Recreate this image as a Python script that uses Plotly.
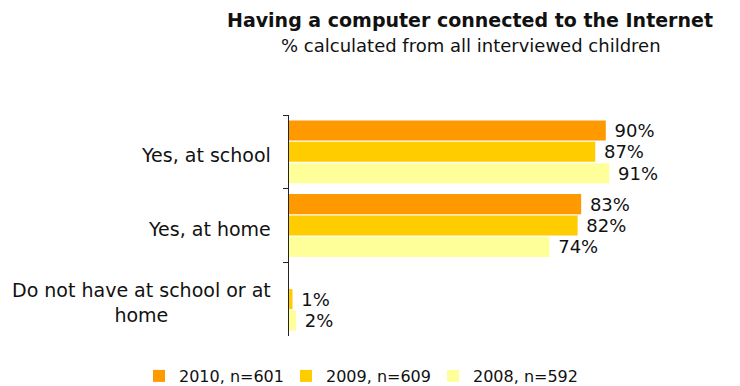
import plotly.graph_objects as go

categories = ["Yes, at school", "Yes, at home", "Do not have at school or at<br>home"]
series_names = ["2010, n=601", "2009, n=609", "2008, n=592"]
values_2010 = [90, 83, None]
values_2009 = [87, 82, 1]
values_2008 = [91, 74, 2]
series_values = [values_2010, values_2009, values_2008]
colors = ["#FF9900", "#FFCC00", "#FFFF99"]

FONT = "DejaVu Sans"
TEXT = "#111111"
W, H = 740, 386

fig = go.Figure()
for name, vals, col in zip(series_names, series_values, colors):
    fig.add_trace(go.Bar(
        y=categories,
        x=vals,
        name=name,
        orientation="h",
        marker=dict(color=col, line=dict(width=0)),
        text=["\u00a0" + f"{v}%" if v is not None else "" for v in vals],
        textposition="outside",
        constraintext="none",
        textfont=dict(family=FONT, size=18, color=TEXT),
        cliponaxis=False,
        hoverinfo="skip",
    ))

# Category labels, each line centred, right edge next to the axis
for cat in categories:
    fig.add_annotation(
        x=289 / W, xref="paper", y=cat, yref="y",
        text=cat, showarrow=False,
        xanchor="right", yanchor="middle", align="center",
        xshift=-16, yshift=-3,
        font=dict(family=FONT, size=19, color=TEXT),
    )

fig.add_annotation(
    x=470 / W, xref="paper", y=1 - 20 / H, yref="paper",
    text="<b>Having a computer connected to the Internet</b>",
    showarrow=False, xanchor="center", yanchor="middle",
    font=dict(family=FONT, size=19, color=TEXT),
)
fig.add_annotation(
    x=471 / W, xref="paper", y=1 - 46 / H, yref="paper",
    text="% calculated from all interviewed children",
    showarrow=False, xanchor="center", yanchor="middle",
    font=dict(family=FONT, size=18, color=TEXT),
)

fig.update_layout(
    width=W, height=H,
    margin=dict(l=0, r=0, t=0, b=0, autoexpand=False),
    paper_bgcolor="white", plot_bgcolor="white",
    barmode="group", bargap=0.13, bargroupgap=0.06,
    showlegend=True,
    legend=dict(
        orientation="h", x=139 / W, xanchor="left",
        y=(H - 376) / H, yanchor="middle",
        font=dict(family=FONT, size=16, color=TEXT),
        itemwidth=30, traceorder="normal",
        entrywidth=102, entrywidthmode="pixels",
        bgcolor="rgba(0,0,0,0)",
    ),
    xaxis=dict(range=[0, 100], domain=[289 / W, 641 / W],
               visible=False, fixedrange=True),
    yaxis=dict(
        domain=[(H - 336) / H, (H - 115) / H],
        autorange="reversed", showticklabels=False,
        showline=True, linecolor="#222222", linewidth=1,
        ticks="outside", tickson="boundaries", ticklen=5, tickcolor="#222222",
        showgrid=False, zeroline=False,
    ),
)

fig.write_html("out.html")
